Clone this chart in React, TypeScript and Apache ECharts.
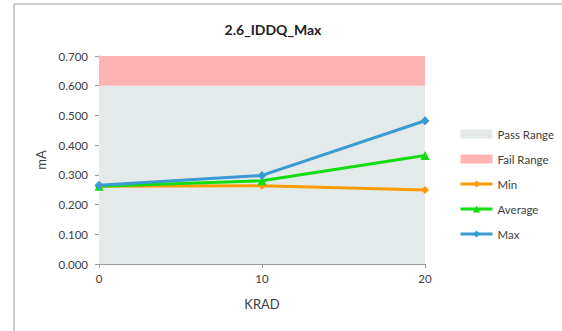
import React, { useEffect, useRef } from "react";
import * as echarts from "echarts";

const krad = [0, 10, 20];
const minVals = [0.262, 0.263, 0.249];
const avgVals = [0.262, 0.28, 0.365];
const maxVals = [0.265, 0.298, 0.482];
const passRange = [0, 0.6];
const failRange = [0.6, 0.7];
const yTicks = { min: 0, max: 0.7, interval: 0.1 };
const xTicks = { min: 0, max: 20, interval: 10 };

const FONT = "Lato, 'Open Sans', sans-serif";
const TXT = "#404040";

export default function App() {
  const ref = useRef<HTMLDivElement>(null);
  useEffect(() => {
    if (!ref.current) return;
    const chart = echarts.init(ref.current, undefined, { renderer: "svg" });
    const pts = (ys: number[]) => krad.map((x, i) => [x, ys[i]]);
    chart.setOption({
      animation: false,
      textStyle: { fontFamily: FONT, color: TXT },
      title: {
        text: "2.6_IDDQ_Max",
        left: 268,
        textAlign: "center",
        top: 17,
        textStyle: { fontFamily: FONT, fontSize: 14, fontWeight: "bold", color: "#222" },
      },
      graphic: [
        {
          type: "rect",
          shape: { x: 14, y: 4, width: 600, height: 400 },
          style: { fill: "none", stroke: "#999", lineWidth: 1 },
          silent: true,
        },
      ],
      grid: { left: 99, top: 56, width: 326, height: 208 },
      legend: {
        orient: "vertical",
        left: 454,
        top: 123,
        itemWidth: 32,
        itemHeight: 9,
        itemGap: 13,
        textStyle: { fontFamily: FONT, fontSize: 11.5, color: TXT },
        data: [
          { name: "Pass Range", icon: "rect" },
          { name: "Fail Range", icon: "rect" },
          { name: "Min", lineStyle: { width: 3 } },
          { name: "Average", lineStyle: { width: 3 } },
          { name: "Max", lineStyle: { width: 3 } },
        ],
      },
      xAxis: {
        type: "value",
        min: xTicks.min,
        max: xTicks.max,
        interval: xTicks.interval,
        name: "KRAD",
        nameLocation: "middle",
        nameGap: 33,
        nameTextStyle: { fontFamily: FONT, fontSize: 13, color: TXT },
        axisLine: { show: true, lineStyle: { color: "#999" } },
        axisTick: { show: true, length: 4, lineStyle: { color: "#999" } },
        axisLabel: { fontFamily: FONT, fontSize: 11.5, color: TXT, margin: 8 },
        splitLine: { show: false },
      },
      yAxis: {
        type: "value",
        min: yTicks.min,
        max: yTicks.max,
        interval: yTicks.interval,
        name: "mA",
        nameLocation: "middle",
        nameGap: 48,
        nameTextStyle: { fontFamily: FONT, fontSize: 13, color: TXT },
        axisLine: { show: true, lineStyle: { color: "#999" } },
        axisTick: { show: true, length: 4, lineStyle: { color: "#999" } },
        axisLabel: {
          fontFamily: FONT,
          fontSize: 11.5,
          color: TXT,
          margin: 11,
          formatter: (v: number) => v.toFixed(3),
        },
        splitLine: { show: false },
      },
      series: [
        {
          name: "Pass Range",
          type: "line",
          data: [],
          itemStyle: { color: "#E4EAEA" },
          markArea: {
            silent: true,
            itemStyle: { color: "#E4EAEA" },
            data: [[{ yAxis: passRange[0] }, { yAxis: passRange[1] }]],
          },
        },
        {
          name: "Fail Range",
          type: "line",
          data: [],
          itemStyle: { color: "#FFB3B3" },
          markArea: {
            silent: true,
            itemStyle: { color: "#FFB3B3" },
            data: [[{ yAxis: failRange[0] }, { yAxis: failRange[1] }]],
          },
        },
        {
          name: "Min",
          type: "line",
          data: pts(minVals),
          symbol: "diamond",
          symbolSize: 8,
          itemStyle: { color: "#FF9A0A" },
          lineStyle: { width: 3, color: "#FF9A0A" },
        },
        {
          name: "Average",
          type: "line",
          data: pts(avgVals),
          symbol: "triangle",
          symbolSize: 9,
          itemStyle: { color: "#11DD11" },
          lineStyle: { width: 3, color: "#11DD11" },
        },
        {
          name: "Max",
          type: "line",
          data: pts(maxVals),
          symbol: "diamond",
          symbolSize: 9,
          itemStyle: { color: "#3A9AD2" },
          lineStyle: { width: 3, color: "#3A9AD2" },
        },
      ],
    });
    return () => chart.dispose();
  }, []);
  return <div ref={ref} style={{ width: 562, height: 331, position: "absolute", left: 0, top: 0 }} />;
}
